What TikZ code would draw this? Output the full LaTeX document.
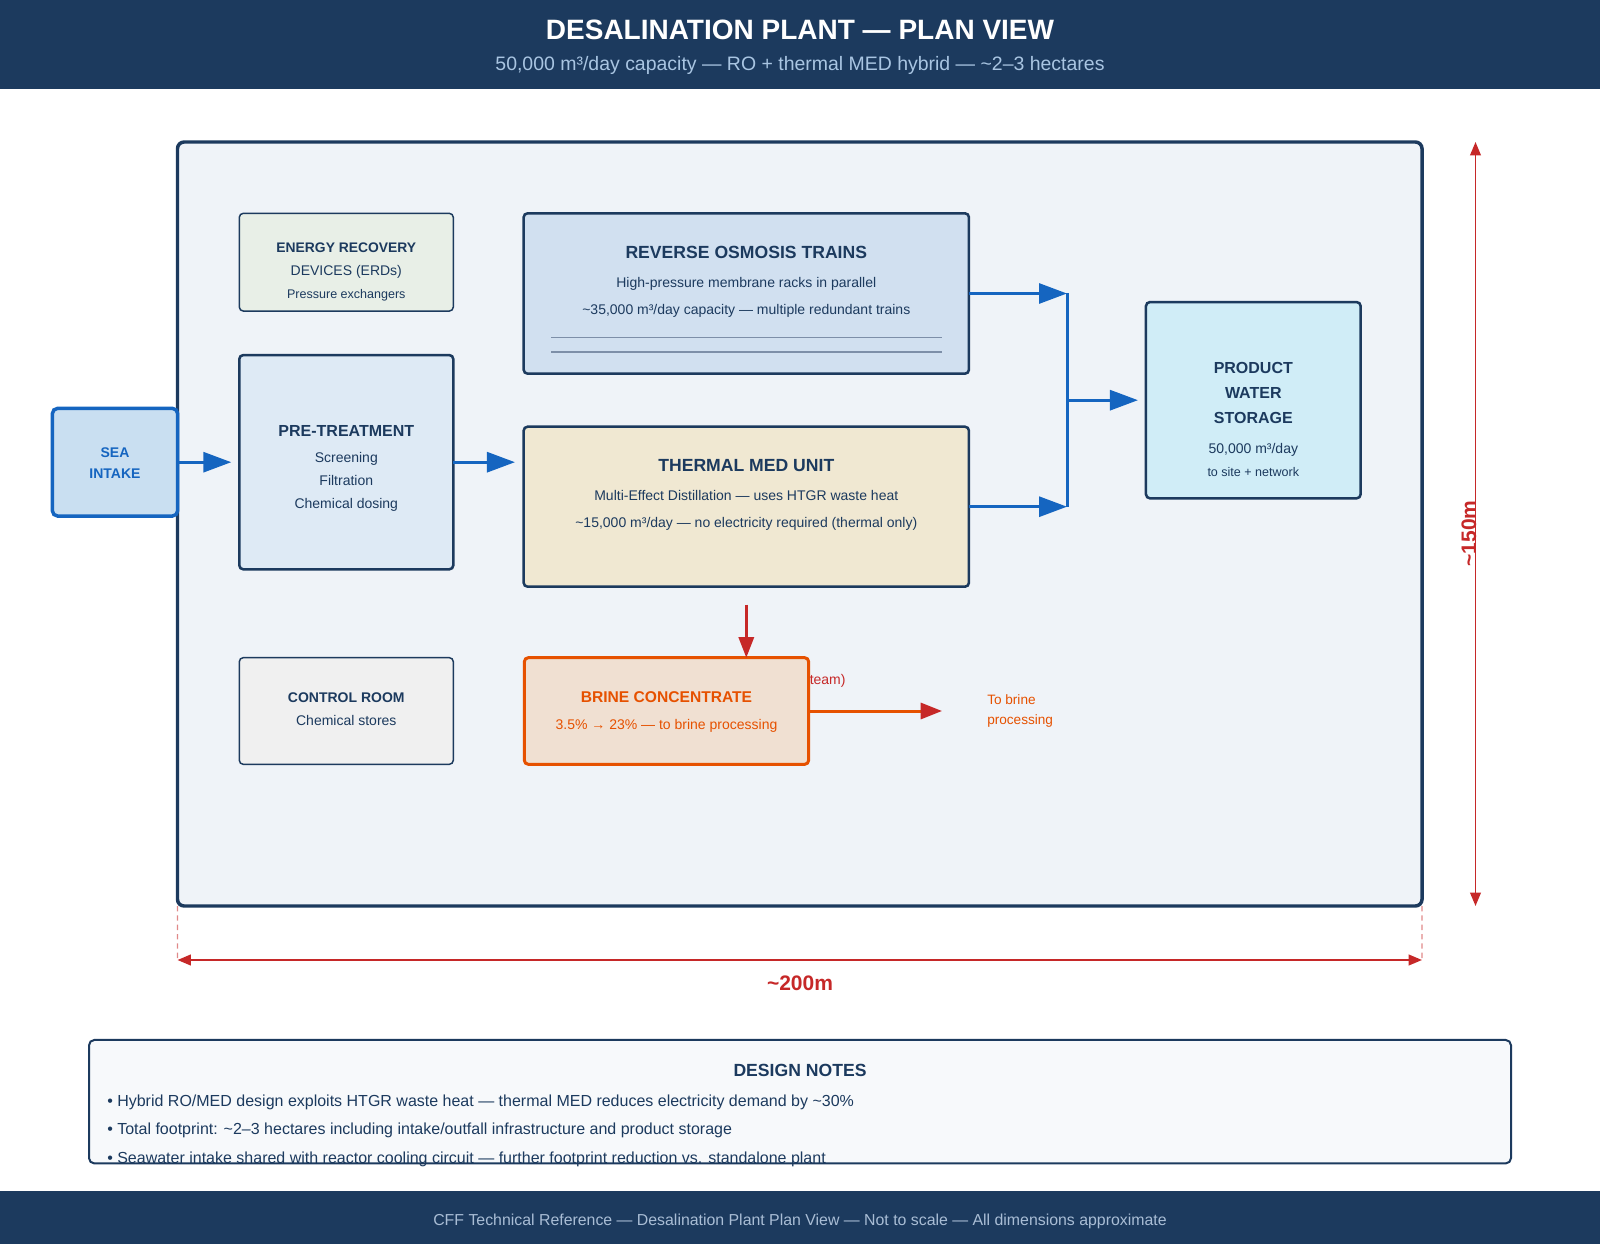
\documentclass[tikz,border=0pt]{standalone}
\usepackage{fontspec}
\setmainfont{Liberation Sans}
\usetikzlibrary{arrows.meta}
\definecolor{navy}{HTML}{1C3A5E}
\definecolor{sitebg}{HTML}{EFF3F8}
\definecolor{seablue}{HTML}{1565C0}
\definecolor{seabg}{HTML}{C9DFF1}
\definecolor{erdbg}{HTML}{E8EFE7}
\definecolor{prebg}{HTML}{DEEAF5}
\definecolor{robg}{HTML}{D1E0F0}
\definecolor{medbg}{HTML}{F0E8D2}
\definecolor{prodbg}{HTML}{D0EDF7}
\definecolor{ctrlbg}{HTML}{F0F0F0}
\definecolor{brinebg}{HTML}{F0E0D2}
\definecolor{brineorange}{HTML}{E65100}
\definecolor{dimred}{HTML}{C62828}
\definecolor{notebg}{HTML}{F7F9FB}
\definecolor{subtext}{HTML}{A9C5E2}
\definecolor{foottext}{HTML}{A9BDD5}
\definecolor{rulegray}{HTML}{7D8FA8}
\tikzset{
  waterarr/.style={-{Triangle[length=21pt,width=15pt]},line width=2.25pt,color=seablue},
  hotarr/.style={-{Triangle[length=15.5pt,width=11.5pt]},line width=1.9pt,color=dimred},
  brinearr/.style={-{Triangle[length=16pt,width=12pt,color=dimred]},line width=2.25pt,color=brineorange},
  dimarr/.style={{Triangle[length=10pt,width=8pt]}-{Triangle[length=10pt,width=8pt]},color=dimred},
  unitbox/.style={draw=navy,line width=1.9pt,rounded corners=3pt,outer sep=0pt,inner sep=0pt},
  thinbox/.style={draw=navy,line width=1.1pt,rounded corners=3pt,outer sep=0pt,inner sep=0pt},
  lbl/.style={anchor=base,inner sep=0pt,text=navy},
  bodyfont/.style={font=\fontsize{10.5pt}{12pt}\selectfont},
  headfont/.style={font=\fontsize{12pt}{14pt}\selectfont\bfseries}
}

\begin{document}
\begin{tikzpicture}[x=0.75pt,y=-0.75pt]
  \useasboundingbox (0,0) rectangle (1600,1244);
  % header and footer bands
  \fill[navy] (0,0) rectangle (1600,89);
  \fill[navy] (0,1191) rectangle (1600,1244);
  \node[lbl,text=white,font=\fontsize{21pt}{25pt}\selectfont\bfseries] (title) at (800,39.5) {DESALINATION PLANT — PLAN VIEW};
  \node[lbl,text=subtext,font=\fontsize{14.6pt}{17pt}\selectfont] (subtitle) at (800,71) {50,000 m³/day capacity — RO + thermal MED hybrid — \textasciitilde2–3 hectares};
  \node[lbl,text=foottext,font=\fontsize{11.9pt}{14pt}\selectfont] (footer) at (800,1225) {CFF Technical Reference — Desalination Plant Plan View — Not to scale — All dimensions approximate};

  % site outline
  \node[draw=navy,fill=sitebg,line width=2.6pt,rounded corners=5pt,outer sep=0pt,minimum width=933.4pt,minimum height=573pt] (site) at (799.75,524) {};

  % units
  \node[draw=seablue,fill=seabg,line width=2.6pt,rounded corners=4pt,outer sep=0pt,minimum width=94pt,minimum height=80.8pt] (sea) at (115,462.2) {};
  \node[thinbox,fill=erdbg,minimum width=160.5pt,minimum height=73.3pt] (erd) at (346.3,262.2) {};
  \node[unitbox,fill=prebg,minimum width=160.5pt,minimum height=160.7pt] (pre) at (346.3,462.2) {};
  \node[unitbox,fill=robg,minimum width=334pt,minimum height=120.3pt] (ro) at (746.3,293.5) {};
  \node[unitbox,fill=medbg,minimum width=334pt,minimum height=120pt] (med) at (746.3,506.7) {};
  \node[unitbox,fill=prodbg,minimum width=161pt,minimum height=147.2pt] (prod) at (1253.3,400.2) {};
  \node[thinbox,fill=ctrlbg,minimum width=160.5pt,minimum height=80pt] (ctrl) at (346.3,711) {};
  \node[draw=brineorange,fill=brinebg,line width=2.25pt,rounded corners=3pt,outer sep=0pt,minimum width=213.2pt,minimum height=80pt] (brine) at (666.5,711) {};

  \draw[rulegray,line width=0.8pt] (551,337.3) -- (942,337.3);
  \draw[rulegray,line width=0.9pt] (551,352) -- (942,352);

  % labels
  \node[lbl,text=seablue,font=\fontsize{10.5pt}{12pt}\selectfont\bfseries] (seaA) at (115,458) {SEA};
  \node[lbl,text=seablue,font=\fontsize{10.5pt}{12pt}\selectfont\bfseries] (seaB) at (115,478.5) {INTAKE};

  \node[lbl,font=\fontsize{10.4pt}{12pt}\selectfont\bfseries] (erdA) at (346.3,252.5) {ENERGY RECOVERY};
  \node[lbl,bodyfont] (erdB) at (346.3,275.5) {DEVICES (ERDs)};
  \node[lbl,font=\fontsize{9.4pt}{11pt}\selectfont] (erdC) at (346.3,298.5) {Pressure exchangers};

  \node[lbl,headfont] (preA) at (346.3,436.5) {PRE-TREATMENT};
  \node[lbl,bodyfont] (preB) at (346.3,463) {Screening};
  \node[lbl,bodyfont] (preC) at (346.3,485.5) {Filtration};
  \node[lbl,bodyfont] (preD) at (346.3,508.5) {Chemical dosing};

  \node[lbl,font=\fontsize{13.2pt}{15pt}\selectfont\bfseries] (roA) at (746.3,259) {REVERSE OSMOSIS TRAINS};
  \node[lbl,bodyfont] (roB) at (746.3,288) {High-pressure membrane racks in parallel};
  \node[lbl,bodyfont] (roC) at (746.3,315) {\textasciitilde35,000 m³/day capacity — multiple redundant trains};

  \node[lbl,font=\fontsize{13.2pt}{15pt}\selectfont\bfseries] (medA) at (746.3,471.5) {THERMAL MED UNIT};
  \node[lbl,bodyfont] (medB) at (746.3,501) {Multi-Effect Distillation — uses HTGR waste heat};
  \node[lbl,bodyfont] (medC) at (746.3,527.5) {\textasciitilde15,000 m³/day — no electricity required (thermal only)};

  \node[lbl,headfont] (prodA) at (1253.3,374) {PRODUCT};
  \node[lbl,headfont] (prodB) at (1253.3,399) {WATER};
  \node[lbl,headfont] (prodC) at (1253.3,424) {STORAGE};
  \node[lbl,bodyfont] (prodD) at (1253.3,454) {50,000 m³/day};
  \node[lbl,font=\fontsize{9.4pt}{11pt}\selectfont] (prodE) at (1253.3,476.5) {to site + network};

  \node[lbl,font=\fontsize{10.5pt}{12pt}\selectfont\bfseries] (ctrlA) at (346.3,702.5) {CONTROL ROOM};
  \node[lbl,bodyfont] (ctrlB) at (346.3,725) {Chemical stores};

  \node[lbl,text=brineorange,font=\fontsize{11.7pt}{14pt}\selectfont\bfseries] (brineA) at (666.5,702.5) {BRINE CONCENTRATE};
  \node[lbl,text=brineorange,bodyfont] (brineB) at (666.5,729.5) {3.5\% → 23\% — to brine processing};
  \node[lbl,anchor=base west,text=dimred,bodyfont] (steam) at (809.5,684) {team)};
  \node[lbl,anchor=base west,text=brineorange,font=\fontsize{10.2pt}{12pt}\selectfont] (outA) at (987,704) {To brine};
  \node[lbl,anchor=base west,text=brineorange,font=\fontsize{10.2pt}{12pt}\selectfont] (outB) at (987,724) {processing};

  % flows
  \coordinate (jtop) at (1067,293.5);
  \coordinate (jbot) at (1067,506.7);
  \coordinate (jmid) at (1067,400.2);
  \coordinate (brineout) at (942,711);
  \draw[waterarr,shorten >=6pt] (sea.east) -- (sea.east -| pre.west);
  \draw[waterarr,shorten >=6.5pt] (pre.east) -- (pre.east -| med.west);
  \draw[waterarr] (ro.east) -- (jtop);
  \draw[waterarr] (med.east) -- (jbot);
  \draw[seablue,line width=2.25pt] (jtop) -- (jbot);
  \draw[waterarr,shorten >=6pt] (jmid) -- (prod.west);
  \draw[hotarr,shorten <=13.5pt] (med.south) -- (med.south |- brine.north);
  \draw[brinearr] (brine.east) -- (brineout);

  % dimensions
  \coordinate (dimtop) at (1475.5,142);
  \coordinate (dimbot) at (1475.5,906);
  \coordinate (dimleft) at (177.5,960);
  \coordinate (dimright) at (1422,960);
  \draw[dimred!55,line width=0.8pt,dash pattern=on 4pt off 3pt] (site.south west) -- (dimleft);
  \draw[dimred!55,line width=0.8pt,dash pattern=on 4pt off 3pt] (site.south east) -- (dimright);
  \draw[dimarr,line width=1.5pt] (dimleft) -- (dimright);
  \draw[dimarr,line width=1.2pt] (dimtop) -- (dimbot);
  \node[lbl,text=dimred,font=\fontsize{15.75pt}{18pt}\selectfont\bfseries] (width) at (800,990) {\textasciitilde200m};
  \node[lbl,text=dimred,rotate=90,font=\fontsize{15.75pt}{18pt}\selectfont\bfseries] (depth) at (1476,533.5) {\textasciitilde150m};

  % notes
  \node[draw=navy,fill=notebg,line width=1.5pt,rounded corners=4pt,outer sep=0pt,minimum width=1066.5pt,minimum height=92.6pt] (notes) at (800,1101.7) {};
  \node[lbl,font=\fontsize{13.2pt}{15pt}\selectfont\bfseries] (notesA) at (800,1076) {DESIGN NOTES};
  \node[lbl,anchor=base west,font=\fontsize{12pt}{14pt}\selectfont] (noteB) at (107,1106) {• Hybrid RO/MED design exploits HTGR waste heat — thermal MED reduces electricity demand by \textasciitilde30\%};
  \node[lbl,anchor=base west,font=\fontsize{12pt}{14pt}\selectfont] (noteC) at (107,1134.5) {• Total footprint: \textasciitilde2–3 hectares including intake/outfall infrastructure and product storage};
  \node[lbl,anchor=base west,font=\fontsize{12pt}{14pt}\selectfont] (noteD) at (107,1163) {• Seawater intake shared with reactor cooling circuit — further footprint reduction vs. standalone plant};
\end{tikzpicture}
\end{document}
